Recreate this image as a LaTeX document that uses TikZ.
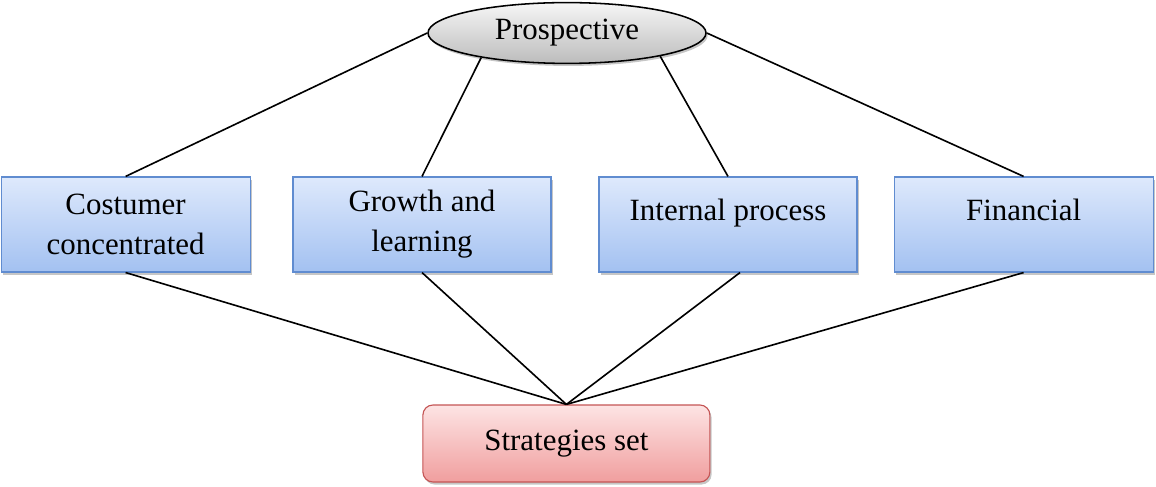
\documentclass[tikz,border=0pt]{standalone}
\usepackage{fontspec}
\setmainfont{Liberation Serif}
\usepackage{tikz}
\usetikzlibrary{shapes.geometric,shadows}
\definecolor{BoxTop}{RGB}{222,233,252}
\definecolor{BoxBottom}{RGB}{163,193,241}
\definecolor{BoxLine}{RGB}{96,140,208}
\definecolor{SetTop}{RGB}{253,228,228}
\definecolor{SetBottom}{RGB}{240,158,158}
\definecolor{SetLine}{RGB}{196,84,84}
\definecolor{OvalTop}{RGB}{246,246,246}
\definecolor{OvalBottom}{RGB}{188,188,188}
\tikzset{
  figure/.style={font=\fontsize{22}{28.5}\selectfont},
  softshadow/.style={drop shadow={shadow xshift=1.2pt,shadow yshift=-1.8pt,opacity=0.45}},
  oval/.style={ellipse,draw=black,line width=1.1pt,top color=OvalTop,bottom color=OvalBottom,
    minimum width=6.95cm,minimum height=1.52cm,inner sep=0pt,softshadow},
  view/.style={draw=BoxLine,line width=0.8pt,top color=BoxTop,bottom color=BoxBottom,
    minimum height=2.375cm,align=center,inner sep=2pt,softshadow},
  oneline/.style={text height=11pt,text depth=17pt},
  result/.style={draw=SetLine,line width=0.8pt,rounded corners=2.5mm,top color=SetTop,bottom color=SetBottom,
    minimum width=7.175cm,minimum height=1.925cm,softshadow},
  link/.style={line width=1.15pt,draw=black},
}
\begin{document}
\begin{tikzpicture}[figure]
  \useasboundingbox (0,0) rectangle (28.9,12.15);

  \node[oval] (prosp) at (14.175,11.325) {Prospective};

  \node[view,minimum width=6.225cm] (costumer) at (3.14,6.5375) {Costumer\\concentrated};
  \node[view,minimum width=6.45cm] (growth) at (10.55,6.5375) {Growth and\\learning};
  \node[view,oneline,minimum width=6.45cm] (internal) at (18.2,6.5375) {Internal process};
  \node[view,oneline,minimum width=6.475cm] (financial) at (25.59,6.5375) {Financial};

  \node[result] (strategies) at (14.16,1.0625) {Strategies set};

  \draw[link] (prosp.180) -- (costumer.north);
  \draw[link] (prosp.196) -- (growth.north);
  \draw[link] (prosp.346) -- (internal.north);
  \draw[link] (prosp.0) -- (financial.north);

  \draw[link] (costumer.south) -- (strategies.north);
  \draw[link] (growth.south) -- (strategies.north);
  \draw[link] ([xshift=3mm]internal.south) -- (strategies.north);
  \draw[link] (financial.south) -- (strategies.north);
\end{tikzpicture}
\end{document}
